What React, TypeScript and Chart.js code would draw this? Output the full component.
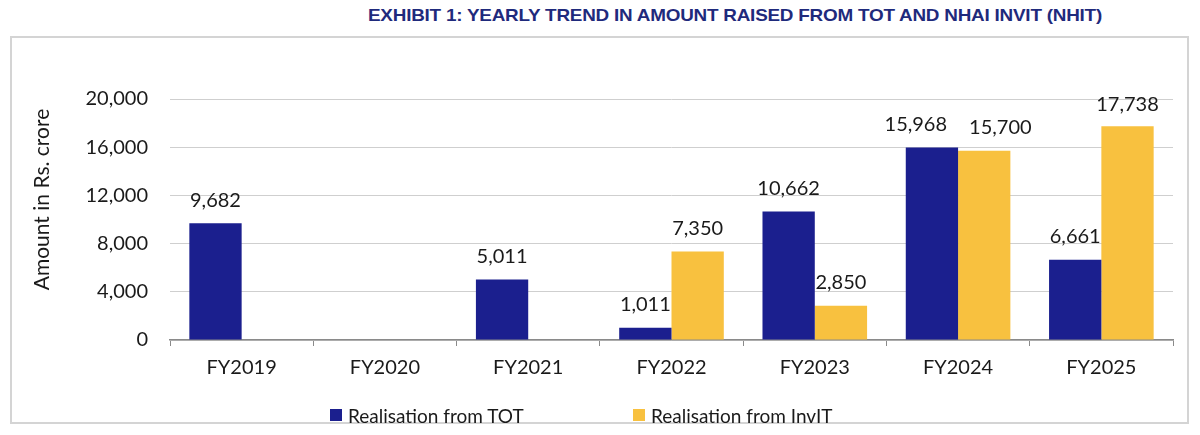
import React, { useEffect, useLayoutEffect, useRef } from "react";
import { Chart, registerables } from "chart.js";

Chart.register(...registerables);

const categories = ["FY2019", "FY2020", "FY2021", "FY2022", "FY2023", "FY2024", "FY2025"];
const totValues: (number | null)[] = [9682, null, 5011, 1011, 10662, 15968, 6661];
const invitValues: (number | null)[] = [null, null, null, 7350, 2850, 15700, 17738];
const seriesLabels = ["Realisation from TOT", "Realisation from InvIT"];
const seriesColors = ["#1B1F8E", "#F8C13F"];
const yTicks = [0, 4000, 8000, 12000, 16000, 20000];
const yTitle = "Amount in Rs. crore";
const chartTitle = "EXHIBIT 1: YEARLY TREND IN AMOUNT RAISED FROM TOT AND NHAI INVIT (NHIT)";

const FONT = "Lato, 'Open Sans', sans-serif";
const fmt = (v: number) => v.toLocaleString("en-US");

const dataLabelPlugin = {
  id: "dataLabels",
  afterDatasetsDraw(chart: any) {
    const ctx = chart.ctx;
    ctx.save();
    ctx.font = `20px ${FONT}`;
    ctx.fillStyle = "#1a1a1a";
    ctx.textAlign = "center";
    ctx.textBaseline = "bottom";
    const offset = 13;
    const minGap = 22;
    const lh = 22;
    categories.forEach((_, i) => {
      const items: { x: number; y: number; w: number; t: string }[] = [];
      chart.data.datasets.forEach((ds: any, di: number) => {
        const v = ds.data[i];
        if (v === null || v === undefined) return;
        const el = chart.getDatasetMeta(di).data[i];
        const t = fmt(v);
        items.push({ x: el.x, y: el.y - offset, w: ctx.measureText(t).width, t });
      });
      for (let k = 0; k + 1 < items.length; k++) {
        const a = items[k];
        const b = items[k + 1];
        if (Math.abs(a.y - b.y) < lh) {
          const need = a.w / 2 + b.w / 2 + minGap - (b.x - a.x);
          if (need > 0) {
            a.x -= need / 2;
            b.x += need / 2;
          }
        }
      }
      items.forEach((it) => {
        const y = Math.max(it.y, chart.chartArea.top + 16);
        ctx.fillText(it.t, it.x, y);
      });
    });
    ctx.restore();
  },
};

const axisTitlePlugin = {
  id: "axisTitle",
  afterDraw(chart: any) {
    const ctx = chart.ctx;
    const ca = chart.chartArea;
    ctx.save();
    ctx.font = `21px ${FONT}`;
    ctx.fillStyle = "#1a1a1a";
    ctx.textAlign = "center";
    ctx.textBaseline = "middle";
    ctx.translate(30, (ca.top + ca.bottom) / 2 - 20);
    ctx.rotate(-Math.PI / 2);
    ctx.fillText(yTitle, 0, 0);
    ctx.restore();
  },
};

export default function App() {
  const canvasRef = useRef<HTMLCanvasElement | null>(null);
  const titleRef = useRef<HTMLSpanElement | null>(null);

  useLayoutEffect(() => {
    const el = titleRef.current;
    if (el) {
      const w = el.getBoundingClientRect().width;
      if (w > 0) el.style.transform = `scaleX(${734 / w})`;
    }
  }, []);

  useEffect(() => {
    if (!canvasRef.current) return;
    const chart = new Chart(canvasRef.current, {
      type: "bar",
      data: {
        labels: categories,
        datasets: [
          {
            label: seriesLabels[0],
            data: totValues,
            backgroundColor: seriesColors[0],
            categoryPercentage: 0.73,
            barPercentage: 1,
          },
          {
            label: seriesLabels[1],
            data: invitValues,
            backgroundColor: seriesColors[1],
            categoryPercentage: 0.73,
            barPercentage: 1,
          },
        ] as any,
      },
      options: {
        animation: false,
        responsive: false,
        maintainAspectRatio: false,
        layout: { padding: { top: 61, right: 14, bottom: 42, left: 0 } },
        plugins: {
          legend: { display: false },
          tooltip: { enabled: false },
          title: { display: false },
        },
        scales: {
          x: {
            afterFit: (s: any) => {
              s.height = 40;
            },
            grid: {
              display: true,
              drawOnChartArea: false,
              drawTicks: true,
              tickLength: 6,
              color: "#8a8a8a",
              offset: true,
            },
            border: { display: true, color: "#8a8a8a", width: 1.5 },
            ticks: {
              font: { family: FONT, size: 20 },
              color: "#1a1a1a",
              padding: 10,
              maxRotation: 0,
            },
          },
          y: {
            min: yTicks[0],
            max: yTicks[yTicks.length - 1],
            afterFit: (s: any) => {
              s.width = 158;
            },
            afterBuildTicks: (s: any) => {
              s.ticks = yTicks.map((v) => ({ value: v }));
            },
            grid: { color: "#cfcfcf", drawTicks: false, lineWidth: 1 },
            border: { display: false },
            ticks: {
              font: { family: FONT, size: 20 },
              color: "#1a1a1a",
              padding: 22,
              callback: (v: any) => fmt(Number(v)),
            },
          },
        },
      },
      plugins: [dataLabelPlugin, axisTitlePlugin],
    });
    return () => chart.destroy();
  }, []);

  const legendLefts = [330, 633];

  return (
    <div
      style={{
        position: "fixed",
        left: 0,
        top: 0,
        width: 1200,
        height: 435,
        background: "#ffffff",
        fontFamily: FONT,
        overflow: "hidden",
      }}
    >
      <div
        style={{
          position: "absolute",
          left: 368,
          top: 5,
          whiteSpace: "nowrap",
          lineHeight: "20px",
        }}
      >
        <span
          ref={titleRef}
          style={{
            display: "inline-block",
            transformOrigin: "left center",
            fontFamily: "'Liberation Sans Narrow', 'Liberation Sans', Arial, sans-serif",
            fontWeight: 700,
            fontSize: 17,
            color: "#1F2A7C",
            letterSpacing: "-0.2px",
          }}
        >
          {chartTitle}
        </span>
      </div>
      <div
        style={{
          position: "absolute",
          left: 10,
          top: 36,
          width: 1179,
          height: 388,
          boxSizing: "border-box",
          border: "2px solid #d4d4d4",
        }}
      />
      <canvas
        ref={canvasRef}
        width={1175}
        height={384}
        style={{ position: "absolute", left: 12, top: 38, width: 1175, height: 384 }}
      />
      {seriesLabels.map((lab, i) => (
        <div
          key={lab}
          style={{
            position: "absolute",
            left: legendLefts[i],
            top: 403,
            height: 24,
            display: "flex",
            alignItems: "center",
            whiteSpace: "nowrap",
            fontSize: 19,
            color: "#1a1a1a",
          }}
        >
          <span
            style={{
              display: "inline-block",
              width: 12,
              height: 12,
              background: seriesColors[i],
              marginRight: 6,
            }}
          />
          <span>{lab}</span>
        </div>
      ))}
    </div>
  );
}
